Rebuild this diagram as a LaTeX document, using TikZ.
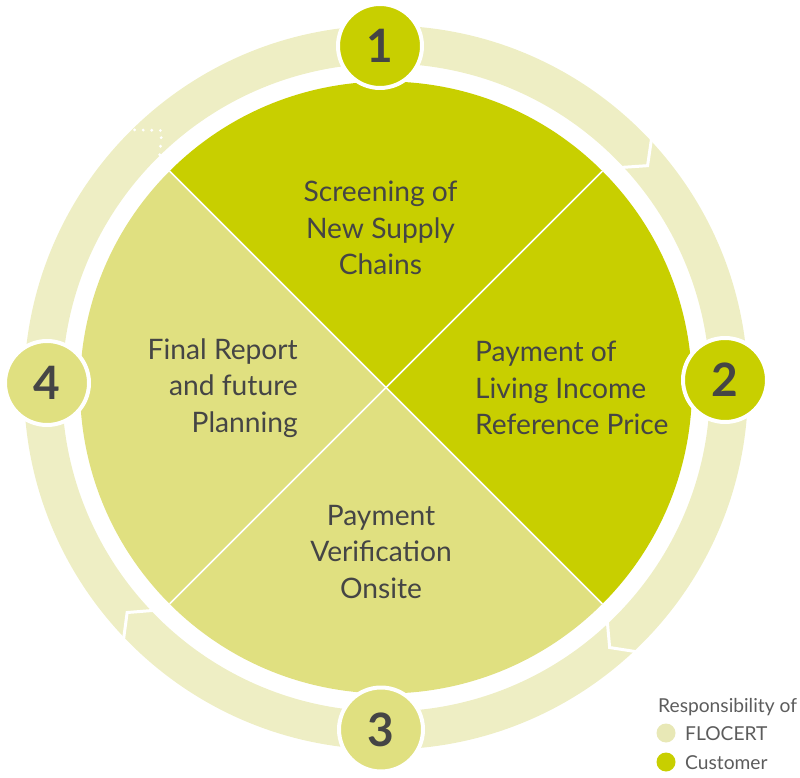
\documentclass[tikz,border=0pt]{standalone}
\usepackage{fontspec}
\setmainfont{Lato}
\usetikzlibrary{calc}
\definecolor{cust}{HTML}{C8CF00}
\definecolor{flo}{HTML}{E0E080}
\definecolor{ringc}{HTML}{EEEEC4}
\definecolor{legflo}{HTML}{E8E8B6}
\definecolor{txt}{HTML}{454545}
\definecolor{legtxt}{HTML}{5C5C5C}
\begin{document}
\begin{tikzpicture}[x=1pt,y=1pt,
  numc/.style={circle,minimum size=84pt,draw=white,line width=4pt,inner sep=0pt,
    font=\fontsize{46}{46}\selectfont\bfseries,text=txt},
  lbl/.style={inner sep=0pt,text=txt,font=\fontsize{28.2}{36.5}\selectfont},
  legtext/.style={inner sep=0pt,text=legtxt,font=\fontsize{19.2}{22}\selectfont,anchor=base west},
  legdot/.style={circle,minimum size=19pt,inner sep=0pt},
  chev/.style={white,line width=3pt},
  chevdot/.style={white,line width=3.2pt,line cap=round,dash pattern=on 0pt off 8.6pt}]
\useasboundingbox (0,0) rectangle (800,777);
\coordinate (c) at (386,389.5);
% ring
\fill[ringc,even odd rule] (c) circle[radius=362] (c) circle[radius=324];
% chevrons
\draw[chev] ($(c)+(43.4:366)$) -- ($(c)+(40.3:343)$) -- ($(c)+(43.4:320)$);
\draw[chev] ($(c)+(-46.3:366)$) -- ($(c)+(-49.3:343)$) -- ($(c)+(-46.3:320)$);
\draw[chev] ($(c)+(-135.9:366)$) -- ($(c)+(-139.0:343)$) -- ($(c)+(-135.9:320)$);
\draw[chevdot] ($(c)+(134.3:360)$) -- ($(c)+(131.1:341)$) -- ($(c)+(134.3:324)$);
% pie
\fill[cust] (c) -- ++(45:306) arc[start angle=45,end angle=135,radius=306] -- cycle;
\fill[cust] (c) -- ++(-45:306) arc[start angle=-45,end angle=45,radius=306] -- cycle;
\fill[flo] (c) -- ++(-135:306) arc[start angle=-135,end angle=-45,radius=306] -- cycle;
\fill[flo] (c) -- ++(135:306) arc[start angle=135,end angle=225,radius=306] -- cycle;
\draw[white,line width=1.5pt] ($(c)+(45:306)$) -- ($(c)+(225:306)$);
\draw[white,line width=1.5pt] ($(c)+(135:306)$) -- ($(c)+(-45:306)$);
% number circles
\node[numc,fill=cust] (n1) at (380,731) {1};
\node[numc,fill=cust] (n2) at (725,397) {2};
\node[numc,fill=flo] (n3) at (381,47.5) {3};
\node[numc,fill=flo] (n4) at (47,394) {4};
% texts
\node[lbl,align=center] (t1) at (380.5,549) {Screening of\\New Supply\\Chains};
\node[lbl,align=left,anchor=west] (t2) at (475,389) {Payment of\\Living Income\\Reference Price};
\node[lbl,align=center] (t3) at (381,225) {Payment\\Verification\\Onsite};
\node[lbl,align=right,anchor=east] (t4) at (298,389) {Final Report\\and future\\Planning};
% legend
\node[legtext] (lg) at (658,65) {Responsibility of};
\node[legdot,fill=legflo] (d1) at (666,44) {};
\node[legtext] (lf) at (685,37) {FLOCERT};
\node[legdot,fill=cust] (d2) at (666,15) {};
\node[legtext] (lc) at (685,8) {Customer};
\end{tikzpicture}
\end{document}
